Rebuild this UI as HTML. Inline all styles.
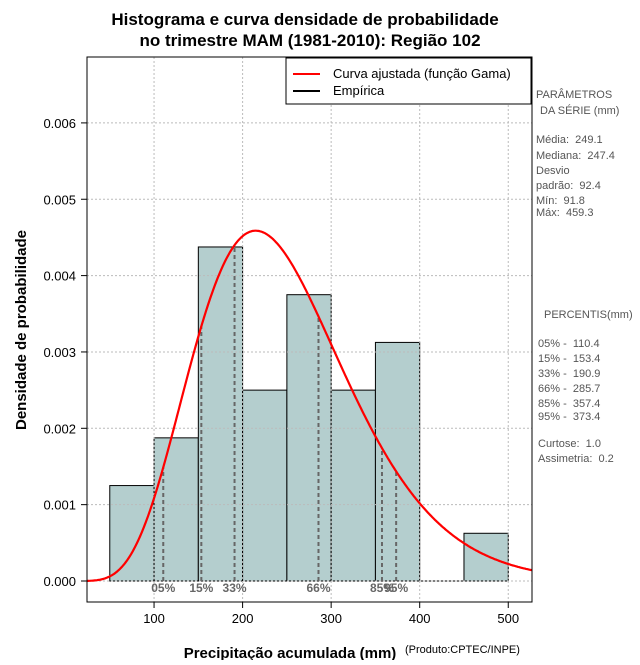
<!DOCTYPE html>
<html><head><meta charset="utf-8"><style>
body{margin:0;background:#fff;}
svg text{font-family:"Liberation Sans",sans-serif;white-space:pre;}
</style></head><body>
<svg width="640" height="660" xmlns="http://www.w3.org/2000/svg" id="chart">
<text x="305" y="25" text-anchor="middle" font-size="17" font-weight="bold">Histograma e curva densidade de probabilidade</text>
<text x="310" y="46" text-anchor="middle" font-size="17" font-weight="bold">no trimestre MAM (1981-2010): Região 102</text>
<g id="grid"></g>
<g id="bars"></g>
<g id="grid2"></g>
<g id="pct"></g>
<path id="curve" fill="none" stroke="#ff0000" stroke-width="2.2"/>
<rect x="87" y="57" width="445" height="545" fill="none" stroke="#000"/>
<g id="axes"></g>
<text x="290" y="658" text-anchor="middle" font-size="15" font-weight="bold">Precipitação acumulada (mm)</text>
<text x="405" y="653" font-size="11">(Produto:CPTEC/INPE)</text>
<text transform="translate(26,330) rotate(-90)" text-anchor="middle" font-size="15" font-weight="bold">Densidade de probabilidade</text>
<g>
<rect x="286" y="58" width="245" height="46" fill="#fff" stroke="#000"/>
<line x1="293" y1="74" x2="320" y2="74" stroke="#ff0000" stroke-width="2"/>
<text x="333" y="78" font-size="13">Curva ajustada (função Gama)</text>
<line x1="293" y1="91" x2="320" y2="91" stroke="#000" stroke-width="2"/>
<text x="333" y="95" font-size="13">Empírica</text>
</g>
<g font-size="11" fill="#555">
<text x="536" y="98">PARÂMETROS</text>
<text x="540" y="114">DA SÉRIE (mm)</text>
<text x="536" y="143">Média:  249.1</text>
<text x="536" y="159">Mediana:  247.4</text>
<text x="536" y="174">Desvio</text>
<text x="536" y="189">padrão:  92.4</text>
<text x="536" y="204">Mín:  91.8</text>
<text x="536" y="216">Máx:  459.3</text>
<text x="544" y="318">PERCENTIS(mm)</text>
<text x="538" y="347">05% -  110.4</text>
<text x="538" y="362">15% -  153.4</text>
<text x="538" y="377">33% -  190.9</text>
<text x="538" y="392">66% -  285.7</text>
<text x="538" y="407">85% -  357.4</text>
<text x="538" y="420">95% -  373.4</text>
<text x="538" y="447">Curtose:  1.0</text>
<text x="538" y="462">Assimetria:  0.2</text>
</g>
</svg>
<script>
const binStarts=[50,100,150,200,250,300,350,400,450];
const binDensity=[0.00125,0.001875,0.004375,0.0025,0.00375,0.0025,0.003125,0,0.000625];
const binWidth=50;
const xTicks=[100,200,300,400,500];
const yTicks=[0,0.001,0.002,0.003,0.004,0.005,0.006];
const yTickLabels=["0.000","0.001","0.002","0.003","0.004","0.005","0.006"];
const pctNames=["05%","15%","33%","66%","85%","95%"];
const pctValues=[110.4,153.4,190.9,285.7,357.4,373.4];
const seriesMean=[249.1];
const seriesSd=[92.4];
const NS="http://www.w3.org/2000/svg";
const X=v=>65.5+0.8855*v;
const Y=v=>581-76.35*v*1000;
const L=87,R=532,T=57,B=602;
function mk(t,a,p){const e=document.createElementNS(NS,t);for(const k in a)e.setAttribute(k,a[k]);p.appendChild(e);return e;}
const k=(seriesMean[0]/seriesSd[0])**2, th=seriesSd[0]**2/seriesMean[0];
function lgam(z){const c=[76.18009172947146,-86.50532032941677,24.01409824083091,-1.231739572450155,0.1208650973866179e-2,-0.5395239384953e-5];let x=z,y=z,t=x+5.5;t-=(x+0.5)*Math.log(t);let s=1.000000000190015;for(const q of c)s+=q/++y;return -t+Math.log(2.5066282746310005*s/x);}
const dens=x=>x<=0?0:Math.exp((k-1)*Math.log(x)-x/th-lgam(k)-k*Math.log(th));
const grid=document.getElementById('grid2');
xTicks.forEach(v=>{const l=mk('line',{x1:X(v),x2:X(v),y1:T,y2:B,stroke:'#bbb','stroke-dasharray':'2,2'},grid);});
yTicks.forEach(v=>{const l=mk('line',{x1:L,x2:R,y1:Y(v),y2:Y(v),stroke:'#bbb','stroke-dasharray':'2,2'},grid);});
const bars=document.getElementById('bars');
binStarts.forEach((s,i)=>{if(binDensity[i]<=0)return;const r=mk('rect',{x:X(s),y:Y(binDensity[i]),width:X(s+binWidth)-X(s),height:Y(0)-Y(binDensity[i]),fill:'#b4cece',stroke:'#000','stroke-width':1},bars);});
mk('line',{x1:X(binStarts[0]),x2:X(500),y1:Y(0),y2:Y(0),stroke:'#000'},bars);
const pg=document.getElementById('pct');
pctValues.forEach((v,i)=>{const l=mk('line',{x1:X(v),x2:X(v),y1:Y(0),y2:Y(dens(v)*1),stroke:'#666','stroke-width':2,'stroke-dasharray':'4,3'},pg);
const t=mk('text',{x:X(v),y:592,'text-anchor':'middle','font-size':12,'font-weight':'bold',fill:'#666','font-family':'Liberation Serif, serif'},pg);t.textContent=pctNames[i];});
let d='';for(let px=L;px<=R;px++){const v=(px-65.5)/0.8855;d+=(d?'L':'M')+px+','+Y(dens(v)).toFixed(1);}
document.getElementById('curve').setAttribute('d',d);
const ax=document.getElementById('axes');
xTicks.forEach(v=>{mk('line',{x1:X(v),x2:X(v),y1:B,y2:B+6,stroke:'#000'},ax);const t=mk('text',{x:X(v),y:B+21,'text-anchor':'middle','font-size':13},ax);t.textContent=v;});
yTicks.forEach((v,i)=>{mk('line',{x1:L-6,x2:L,y1:Y(v),y2:Y(v),stroke:'#000'},ax);const t=mk('text',{x:L-11,y:Y(v)+5,'text-anchor':'end','font-size':13},ax);t.textContent=yTickLabels[i];});
</script>
</body></html>
